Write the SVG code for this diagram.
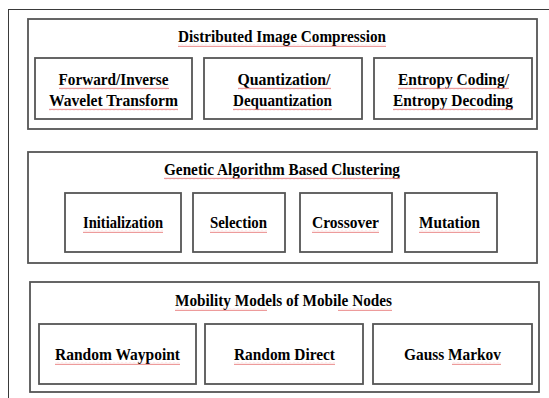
<svg xmlns="http://www.w3.org/2000/svg" width="549" height="398" viewBox="0 0 549 398">
<style>
.frame{fill:none;stroke:#3a3a3a;stroke-width:1}
.panel{fill:#fff;stroke:#555;stroke-width:1.8}
.box{fill:#fff;stroke:#555;stroke-width:1.8}
.t{font-family:'Liberation Serif','Tinos','Times New Roman','DejaVu Serif',serif;font-weight:700;font-size:16px;fill:#000;text-anchor:middle}
.sq{fill:url(#squig)}
</style>
<defs>
<pattern id="squig" x="0" y="0" width="4" height="3" patternUnits="userSpaceOnUse">
<path d="M0 2.2 L1 0.8 L2 2.2 L3 0.8 L4 2.2" fill="none" stroke="#e88080" stroke-width="0.8"/>
</pattern>
</defs>
<rect width="549" height="398" fill="#fff"/>
<rect class="frame" x="8.5" y="9.5" width="560" height="400"/>

<g id="panel-compression">
<rect class="panel" x="28" y="19" width="509" height="110"/>
<text class="t" font-family="Liberation Serif, serif" x="282" y="42" textLength="208" lengthAdjust="spacingAndGlyphs">Distributed Image Compression</text>
</g>
<g id="node-wavelet">
<rect class="box" x="35" y="58" width="157" height="61"/>
<text class="t" font-family="Liberation Serif, serif" x="113.5" y="85" textLength="110" lengthAdjust="spacingAndGlyphs">Forward/Inverse</text>
<text class="t" font-family="Liberation Serif, serif" x="113.5" y="106" textLength="129" lengthAdjust="spacingAndGlyphs">Wavelet Transform</text>
</g>
<g id="node-quantization">
<rect class="box" x="204" y="58" width="158" height="61"/>
<text class="t" font-family="Liberation Serif, serif" x="284" y="85" textLength="93" lengthAdjust="spacingAndGlyphs">Quantization/</text>
<text class="t" font-family="Liberation Serif, serif" x="282.5" y="106" textLength="99" lengthAdjust="spacingAndGlyphs">Dequantization</text>
</g>
<g id="node-entropy">
<rect class="box" x="374" y="58" width="158" height="61"/>
<text class="t" font-family="Liberation Serif, serif" x="453.5" y="85" textLength="111" lengthAdjust="spacingAndGlyphs">Entropy Coding/</text>
<text class="t" font-family="Liberation Serif, serif" x="453" y="106" textLength="120" lengthAdjust="spacingAndGlyphs">Entropy Decoding</text>
</g>

<g id="panel-ga">
<rect class="panel" x="28" y="152" width="509" height="111"/>
<text class="t" font-family="Liberation Serif, serif" x="282" y="175" textLength="236" lengthAdjust="spacingAndGlyphs">Genetic Algorithm Based Clustering</text>
</g>
<g id="node-initialization">
<rect class="box" x="65" y="193" width="116" height="59"/>
<text class="t" font-family="Liberation Serif, serif" x="123" y="228" textLength="80" lengthAdjust="spacingAndGlyphs">Initialization</text>
</g>
<g id="node-selection">
<rect class="box" x="193" y="193" width="92" height="59"/>
<text class="t" font-family="Liberation Serif, serif" x="238.5" y="228" textLength="57" lengthAdjust="spacingAndGlyphs">Selection</text>
</g>
<g id="node-crossover">
<rect class="box" x="300" y="193" width="92" height="59"/>
<text class="t" font-family="Liberation Serif, serif" x="345.5" y="228" textLength="67" lengthAdjust="spacingAndGlyphs">Crossover</text>
</g>
<g id="node-mutation">
<rect class="box" x="405" y="193" width="92" height="59"/>
<text class="t" font-family="Liberation Serif, serif" x="449.5" y="228" textLength="61" lengthAdjust="spacingAndGlyphs">Mutation</text>
</g>

<g id="panel-mobility">
<rect class="panel" x="30" y="282" width="509" height="110"/>
<text class="t" font-family="Liberation Serif, serif" x="283.5" y="306" textLength="217" lengthAdjust="spacingAndGlyphs">Mobility Models of Mobile Nodes</text>
</g>
<g id="node-waypoint">
<rect class="box" x="39" y="324" width="157" height="60"/>
<text class="t" font-family="Liberation Serif, serif" x="117.5" y="360" textLength="125" lengthAdjust="spacingAndGlyphs">Random Waypoint</text>
</g>
<g id="node-direct">
<rect class="box" x="205" y="324" width="158" height="60"/>
<text class="t" font-family="Liberation Serif, serif" x="284.5" y="360" textLength="101" lengthAdjust="spacingAndGlyphs">Random Direct</text>
</g>
<g id="node-gauss">
<rect class="box" x="373" y="324" width="159" height="60"/>
<text class="t" font-family="Liberation Serif, serif" x="452.5" y="360" textLength="97" lengthAdjust="spacingAndGlyphs">Gauss Markov</text>
</g>

<g id="connectors"></g>

<g id="spellcheck-marks">
<rect class="sq" x="178" y="44" width="208" height="3"/>
<rect class="sq" x="59" y="87" width="110" height="3"/>
<rect class="sq" x="49" y="108" width="129" height="3"/>
<rect class="sq" x="238" y="87" width="93" height="3"/>
<rect class="sq" x="233" y="108" width="99" height="3"/>
<rect class="sq" x="398" y="87" width="111" height="3"/>
<rect class="sq" x="393" y="108" width="120" height="3"/>
<rect class="sq" x="164" y="177" width="236" height="3"/>
<rect class="sq" x="83" y="230" width="80" height="3"/>
<rect class="sq" x="210" y="230" width="57" height="3"/>
<rect class="sq" x="312" y="230" width="67" height="3"/>
<rect class="sq" x="419" y="230" width="61" height="3"/>
<rect class="sq" x="175" y="308" width="92" height="3"/>
<rect class="sq" x="338" y="308" width="54" height="3"/>
<rect class="sq" x="55" y="362" width="125" height="3"/>
<rect class="sq" x="234" y="362" width="101" height="3"/>
<rect class="sq" x="452" y="362" width="49" height="3"/>
</g>
</svg>
